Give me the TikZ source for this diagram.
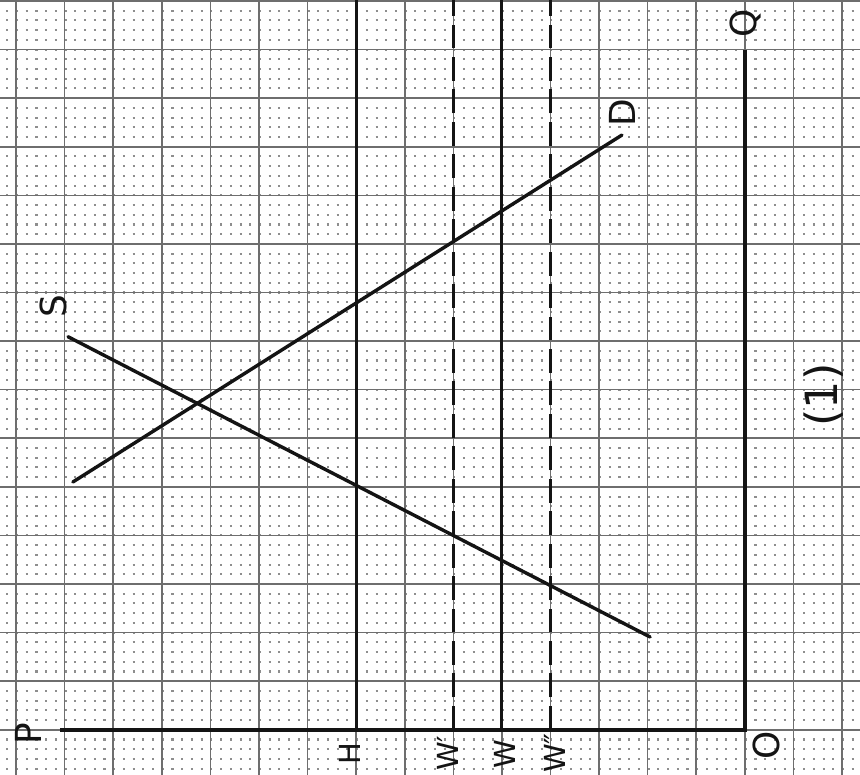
\documentclass[tikz,border=0pt]{standalone}
\usepackage{fontspec}
\setsansfont{DejaVu Sans}
\usetikzlibrary{positioning}
\definecolor{paperline}{HTML}{6E6E6E}
\definecolor{paperdot}{HTML}{8E8E8E}
\definecolor{ink}{HTML}{141414}
\tikzset{
    every node/.style={font=\sffamily\fontsize{21}{23}\selectfont,text=ink},
    lab/.style={rotate=90,inner sep=0pt},
    smallLab/.style={lab,font=\sffamily\fontsize{17}{19}\selectfont},
    bigLab/.style={lab,font=\sffamily\fontsize{26}{28}\selectfont},
    gridline/.style={draw=paperline,line width=0.9pt},
    dotrow/.style={draw=paperdot,line width=1.2pt,dash pattern=on 1.2pt off 4.49pt},
    axisline/.style={draw=ink,line width=2.3pt},
    curve/.style={draw=ink,line width=2pt,line cap=round},
    wageline/.style={draw=ink,line width=1.8pt},
    wagedash/.style={draw=ink,line width=1.8pt,dash pattern=on 14pt off 5pt}
}
\begin{document}
\begin{tikzpicture}
\useasboundingbox (-15.33,-0.93) rectangle (2.37,15.02);
% graph paper
\begin{scope}
\clip (-15.33,-0.93) rectangle (2.37,15.02);
\fill[white] (-15.33,-0.93) rectangle (2.37,15.02);
\foreach \r in {-5,...,76}
    \draw[dotrow] (-15.4,\r/5) -- (2.4,\r/5);
\draw[gridline] (-16,-1) grid (3,16);
\end{scope}

% axes
\coordinate (O) at (0,0);
\coordinate (Pend) at (-14.1,0);
\coordinate (Qend) at (0,14);
\draw[axisline] (Pend) -- (O) -- (Qend);
\node[lab] (labP) at (-14.75,-0.08) {P};
\node[lab] (labQ) at (0.02,14.53) {Q};
\node[lab] (labO) at (0.45,-0.33) {O};

% vertical lines
\coordinate (H) at (-8,0);      \coordinate (Htop) at (-8,15.1);
\coordinate (W1) at (-6,0);     \coordinate (W1top) at (-6,15.1);
\coordinate (W) at (-5,0);      \coordinate (Wtop) at (-5,15.1);
\coordinate (W2) at (-4,0);     \coordinate (W2top) at (-4,15.1);
\draw[wageline] (H) -- (Htop);
\draw[wagedash] (W1) -- (W1top);
\draw[wageline] (W) -- (Wtop);
\draw[wagedash] (W2) -- (W2top);
\node[smallLab] (labH) at (-8.13,-0.48) {H};
\node[smallLab] (labW1) at (-6.11,-0.48) {W′};
\node[smallLab] (labW) at (-4.94,-0.5) {W};
\node[smallLab] (labW2) at (-3.91,-0.48) {W″};

% supply and demand
\coordinate (S1) at (-13.93,8.09);
\coordinate (S2) at (-1.95,1.91);
\coordinate (D1) at (-13.83,5.10);
\coordinate (D2) at (-2.53,12.24);
\draw[curve] (S1) -- (S2);
\draw[curve] (D1) -- (D2);
\node[lab] (labS) at (-14.24,8.72) {S};
\node[lab] (labD) at (-2.51,12.70) {D};

\node[bigLab] (labOne) at (1.63,6.89) {(1)};
\end{tikzpicture}
\end{document}
